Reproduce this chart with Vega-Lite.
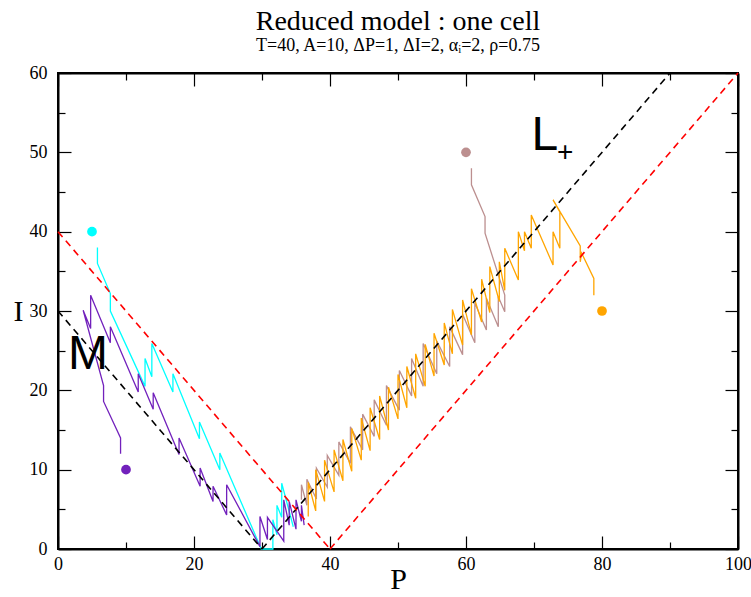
{
  "$schema": "https://vega.github.io/schema/vega-lite/v6.json",
  "width": 680,
  "height": 476,
  "autosize": "none",
  "padding": {"left": 58, "top": 73, "right": 13, "bottom": 48},
  "background": "white",
  "config": {
    "view": {"stroke": "black", "strokeWidth": 2},
    "axis": {"grid": false, "domainColor": "black", "domainWidth": 2, "tickColor": "black", "tickWidth": 1.2, "labelColor": "black", "labelFont": "Liberation Serif", "labelFontSize": 18, "titleFont": "Liberation Serif", "titleColor": "black", "titleFontWeight": "normal", "labelFlush": false, "labelOverlap": false}
  },
  "title": {"text": "Reduced model : one cell", "subtitle": "T=40, A=10, ΔP=1, ΔI=2, αᵢ=2, ρ=0.75", "font": "Liberation Serif", "subtitleFont": "Liberation Serif", "fontSize": 28, "subtitleFontSize": 18, "fontWeight": "normal", "color": "black", "subtitleColor": "black", "anchor": "middle", "offset": 9, "subtitlePadding": 1},
  "datasets": {
    "refs": [
      {"g": "M", "kind": "M", "P": 0, "I": 30}, {"g": "M", "kind": "M", "P": 30, "I": 0},
      {"g": "L", "kind": "L+", "P": 30, "I": 0}, {"g": "L", "kind": "L+", "P": 90, "I": 60},
      {"g": "R1", "kind": "bound", "P": 0, "I": 40}, {"g": "R1", "kind": "bound", "P": 40, "I": 0},
      {"g": "R2", "kind": "bound", "P": 40, "I": 0}, {"g": "R2", "kind": "bound", "P": 100, "I": 60}
    ],
    "starts": [
      {"s": "cyan", "P": 5, "I": 40}, {"s": "purple", "P": 10, "I": 10},
      {"s": "brown", "P": 60, "I": 50}, {"s": "orange", "P": 80, "I": 30}
    ],
    "labels": [
      {"t": "M", "P": 4.4, "I": 24.4},
      {"t": "L", "P": 71.6, "I": 52.1}
    ],
    "sub": [{"t": "+", "P": 74.6, "I": 49.9}],
    "cyan": [
      {"k": 1, "P": 5.8, "I": 38.0}, {"k": 2, "P": 5.8, "I": 36.0}, {"k": 3, "P": 7.7, "I": 32.2}, {"k": 4, "P": 7.7, "I": 30.0},
      {"k": 5, "P": 12.8, "I": 20.5}, {"k": 6, "P": 12.8, "I": 24.0}, {"k": 7, "P": 13.8, "I": 21.7}, {"k": 8, "P": 13.8, "I": 25.9},
      {"k": 9, "P": 16.9, "I": 19.8}, {"k": 10, "P": 16.9, "I": 22.1}, {"k": 11, "P": 20.8, "I": 13.9}, {"k": 12, "P": 20.8, "I": 16.0},
      {"k": 13, "P": 23.8, "I": 10.0}, {"k": 14, "P": 23.8, "I": 12.1}, {"k": 15, "P": 29.9, "I": 0.0}, {"k": 16, "P": 31.6, "I": 0.0},
      {"k": 17, "P": 31.6, "I": 3.7}, {"k": 18, "P": 32.2, "I": 1.8}, {"k": 19, "P": 32.2, "I": 5.5}, {"k": 20, "P": 32.9, "I": 4.0},
      {"k": 21, "P": 32.9, "I": 8.3}, {"k": 22, "P": 34.6, "I": 2.8}
    ],
    "purple": [
      {"k": 1, "P": 9.2, "I": 12.0}, {"k": 2, "P": 9.2, "I": 14.0}, {"k": 3, "P": 6.7, "I": 18.6}, {"k": 4, "P": 6.7, "I": 20.6},
      {"k": 5, "P": 3.7, "I": 30.1}, {"k": 6, "P": 4.8, "I": 27.8}, {"k": 7, "P": 4.8, "I": 32.0}, {"k": 8, "P": 7.7, "I": 26.0},
      {"k": 9, "P": 7.7, "I": 28.0}, {"k": 10, "P": 11.8, "I": 19.8}, {"k": 11, "P": 11.8, "I": 22.1}, {"k": 12, "P": 14.0, "I": 17.6},
      {"k": 13, "P": 14.0, "I": 19.7}, {"k": 14, "P": 17.8, "I": 11.9}, {"k": 15, "P": 17.8, "I": 14.0}, {"k": 16, "P": 20.9, "I": 7.9},
      {"k": 17, "P": 20.9, "I": 10.2}, {"k": 18, "P": 22.8, "I": 6.0}, {"k": 19, "P": 22.8, "I": 7.9}, {"k": 20, "P": 24.8, "I": 4.3},
      {"k": 21, "P": 24.8, "I": 8.1}, {"k": 22, "P": 29.7, "I": 0.3}, {"k": 23, "P": 29.7, "I": 4.1}, {"k": 24, "P": 30.8, "I": 1.2},
      {"k": 25, "P": 30.8, "I": 4.0}, {"k": 26, "P": 33.2, "I": 1.0}, {"k": 27, "P": 33.2, "I": 6.2}, {"k": 28, "P": 34.0, "I": 3.0},
      {"k": 29, "P": 34.0, "I": 6.0}, {"k": 30, "P": 35.0, "I": 2.5}, {"k": 31, "P": 35.0, "I": 6.2}, {"k": 32, "P": 35.8, "I": 3.5},
      {"k": 33, "P": 35.8, "I": 5.5}, {"k": 34, "P": 36.2, "I": 3.0}
    ],
    "brown": [
      {"k": 1, "P": 60.8, "I": 48.0}, {"k": 2, "P": 60.8, "I": 45.9}, {"k": 3, "P": 62.8, "I": 41.9}, {"k": 4, "P": 62.8, "I": 39.8},
      {"k": 5, "P": 65.7, "I": 32.0}, {"k": 6, "P": 65.7, "I": 29.9}, {"k": 7, "P": 64.75, "I": 31.8}, {"k": 8, "P": 64.75, "I": 28.0},
      {"k": 9, "P": 63.0, "I": 31.6}, {"k": 10, "P": 63.0, "I": 27.6}, {"k": 11, "P": 61.3, "I": 31.0}, {"k": 12, "P": 61.3, "I": 26.0},
      {"k": 13, "P": 59.5, "I": 29.6}, {"k": 14, "P": 59.5, "I": 24.5}, {"k": 15, "P": 57.6, "I": 28.0}, {"k": 16, "P": 57.6, "I": 23.0},
      {"k": 17, "P": 55.7, "I": 26.2}, {"k": 18, "P": 55.7, "I": 22.1}, {"k": 19, "P": 53.7, "I": 25.9}, {"k": 20, "P": 53.7, "I": 20.5},
      {"k": 21, "P": 52.0, "I": 24.0}, {"k": 22, "P": 52.0, "I": 19.3}, {"k": 23, "P": 50.2, "I": 22.5}, {"k": 24, "P": 50.2, "I": 17.5},
      {"k": 25, "P": 48.3, "I": 20.6}, {"k": 26, "P": 48.3, "I": 15.6}, {"k": 27, "P": 46.5, "I": 18.8}, {"k": 28, "P": 46.5, "I": 14.2},
      {"k": 29, "P": 44.8, "I": 17.0}, {"k": 30, "P": 44.8, "I": 12.5}, {"k": 31, "P": 43.0, "I": 15.4}, {"k": 32, "P": 43.0, "I": 10.8},
      {"k": 33, "P": 41.3, "I": 13.5}, {"k": 34, "P": 41.3, "I": 9.3}, {"k": 35, "P": 39.6, "I": 11.8}, {"k": 36, "P": 39.6, "I": 7.8},
      {"k": 37, "P": 38.0, "I": 10.2}, {"k": 38, "P": 38.0, "I": 6.3}, {"k": 39, "P": 36.6, "I": 8.8}, {"k": 40, "P": 36.6, "I": 5.5},
      {"k": 41, "P": 35.8, "I": 8.1}, {"k": 42, "P": 35.8, "I": 6.2}
    ],
    "orange": [
      {"k": 1, "P": 78.8, "I": 32.0}, {"k": 2, "P": 78.8, "I": 34.1}, {"k": 3, "P": 77.0, "I": 37.3}, {"k": 4, "P": 76.8, "I": 36.2},
      {"k": 5, "P": 76.8, "I": 38.2}, {"k": 6, "P": 72.8, "I": 44.0}, {"k": 7, "P": 73.8, "I": 42.5}, {"k": 8, "P": 73.8, "I": 37.9},
      {"k": 9, "P": 72.8, "I": 40.0}, {"k": 10, "P": 72.8, "I": 35.8}, {"k": 11, "P": 69.6, "I": 42.1}, {"k": 12, "P": 69.6, "I": 37.9},
      {"k": 13, "P": 68.6, "I": 40.0}, {"k": 14, "P": 68.6, "I": 37.6}, {"k": 15, "P": 67.7, "I": 40.0}, {"k": 16, "P": 67.7, "I": 33.9},
      {"k": 17, "P": 65.7, "I": 37.9}, {"k": 18, "P": 65.7, "I": 32.6}, {"k": 19, "P": 64.9, "I": 36.2}, {"k": 20, "P": 64.9, "I": 31.2},
      {"k": 21, "P": 63.5, "I": 35.6}, {"k": 22, "P": 63.5, "I": 29.8}, {"k": 23, "P": 62.3, "I": 34.0}, {"k": 24, "P": 62.3, "I": 28.6},
      {"k": 25, "P": 60.8, "I": 32.8}, {"k": 26, "P": 60.8, "I": 27.0}, {"k": 27, "P": 59.5, "I": 31.4}, {"k": 28, "P": 59.5, "I": 25.7},
      {"k": 29, "P": 58.0, "I": 30.2}, {"k": 30, "P": 58.0, "I": 24.6}, {"k": 31, "P": 56.8, "I": 28.5}, {"k": 32, "P": 56.8, "I": 23.2},
      {"k": 33, "P": 55.3, "I": 27.2}, {"k": 34, "P": 55.3, "I": 21.8}, {"k": 35, "P": 54.0, "I": 25.8}, {"k": 36, "P": 54.0, "I": 20.5},
      {"k": 37, "P": 52.6, "I": 24.6}, {"k": 38, "P": 52.6, "I": 19.0}, {"k": 39, "P": 51.3, "I": 23.0}, {"k": 40, "P": 51.3, "I": 17.8},
      {"k": 41, "P": 50.0, "I": 22.0}, {"k": 42, "P": 50.0, "I": 16.4}, {"k": 43, "P": 48.6, "I": 20.4}, {"k": 44, "P": 48.6, "I": 15.0},
      {"k": 45, "P": 47.3, "I": 19.3}, {"k": 46, "P": 47.3, "I": 13.8}, {"k": 47, "P": 45.9, "I": 17.8}, {"k": 48, "P": 45.9, "I": 12.4},
      {"k": 49, "P": 44.6, "I": 16.5}, {"k": 50, "P": 44.6, "I": 11.2}, {"k": 51, "P": 43.2, "I": 15.2}, {"k": 52, "P": 43.2, "I": 9.8},
      {"k": 53, "P": 41.9, "I": 13.8}, {"k": 54, "P": 41.9, "I": 8.6}, {"k": 55, "P": 40.6, "I": 12.5}, {"k": 56, "P": 40.6, "I": 7.2},
      {"k": 57, "P": 39.2, "I": 11.2}, {"k": 58, "P": 39.2, "I": 6.0}, {"k": 59, "P": 37.9, "I": 10.0}, {"k": 60, "P": 37.9, "I": 4.8},
      {"k": 61, "P": 36.8, "I": 8.4}, {"k": 62, "P": 36.8, "I": 4.1}
    ]
  },
  "resolve": {"axis": {"x": "independent", "y": "independent"}},
  "layer": [
    {
      "data": {"name": "cyan"},
      "mark": {"type": "line", "color": "#00ffff", "strokeWidth": 1.3},
      "encoding": {
        "x": {"field": "P", "type": "quantitative", "scale": {"domain": [0, 100], "nice": false, "zero": false},
              "axis": {"orient": "bottom", "values": [0, 20, 40, 60, 80, 100], "tickSize": -13, "labelPadding": 19, "title": "P", "titleFontSize": 30, "titleBaseline": "middle", "titleY": 30}},
        "y": {"field": "I", "type": "quantitative", "scale": {"domain": [0, 60], "nice": false, "zero": false},
              "axis": {"orient": "left", "values": [0, 10, 20, 30, 40, 50, 60], "tickSize": -13, "labelPadding": 24, "title": "I", "titleFontSize": 30, "titleAngle": 0, "titleX": -40, "titleY": 238, "titleAlign": "center", "titleBaseline": "middle"}},
        "order": {"field": "k", "type": "quantitative"}
      }
    },
    {
      "data": {"name": "brown"},
      "mark": {"type": "line", "color": "#bc8f8f", "strokeWidth": 1.3},
      "encoding": {
        "x": {"field": "P", "type": "quantitative", "axis": {"orient": "bottom", "values": [10, 30, 50, 70, 90], "tickSize": -7, "labels": false, "domain": false, "title": null}},
        "y": {"field": "I", "type": "quantitative", "axis": {"orient": "left", "values": [5, 15, 25, 35, 45, 55], "tickSize": -7, "labels": false, "domain": false, "title": null}},
        "order": {"field": "k", "type": "quantitative"}
      }
    },
    {
      "data": {"name": "purple"},
      "mark": {"type": "line", "color": "#7221bc", "strokeWidth": 1.3},
      "encoding": {
        "x": {"field": "P", "type": "quantitative", "axis": {"orient": "top", "values": [0, 20, 40, 60, 80, 100], "tickSize": -13, "labels": false, "title": null}},
        "y": {"field": "I", "type": "quantitative", "axis": {"orient": "right", "values": [0, 10, 20, 30, 40, 50, 60], "tickSize": -13, "labels": false, "title": null}},
        "order": {"field": "k", "type": "quantitative"}
      }
    },
    {
      "data": {"name": "orange"},
      "mark": {"type": "line", "color": "#ffa500", "strokeWidth": 1.3},
      "encoding": {
        "x": {"field": "P", "type": "quantitative", "axis": {"orient": "top", "values": [10, 30, 50, 70, 90], "tickSize": -7, "labels": false, "domain": false, "title": null}},
        "y": {"field": "I", "type": "quantitative", "axis": {"orient": "right", "values": [5, 15, 25, 35, 45, 55], "tickSize": -7, "labels": false, "domain": false, "title": null}},
        "order": {"field": "k", "type": "quantitative"}
      }
    },
    {
      "data": {"name": "refs"},
      "mark": {"type": "line", "strokeDash": [7, 5], "strokeWidth": 1.6},
      "encoding": {
        "x": {"field": "P", "type": "quantitative", "axis": null},
        "y": {"field": "I", "type": "quantitative", "axis": null},
        "detail": {"field": "g"},
        "color": {"field": "kind", "type": "nominal", "scale": {"domain": ["M", "L+", "bound"], "range": ["black", "black", "#ff0000"]}, "legend": null}
      }
    },
    {
      "data": {"name": "starts"},
      "mark": {"type": "circle", "size": 95, "opacity": 1},
      "encoding": {
        "x": {"field": "P", "type": "quantitative", "axis": null},
        "y": {"field": "I", "type": "quantitative", "axis": null},
        "fill": {"field": "s", "type": "nominal", "scale": {"domain": ["cyan", "purple", "brown", "orange"], "range": ["#00ffff", "#7221bc", "#bc8f8f", "#ffa500"]}, "legend": null}
      }
    },
    {
      "data": {"name": "labels"},
      "mark": {"type": "text", "font": "Liberation Sans", "fontSize": 48, "color": "black", "align": "center", "baseline": "middle"},
      "encoding": {
        "x": {"field": "P", "type": "quantitative", "axis": null},
        "y": {"field": "I", "type": "quantitative", "axis": null},
        "text": {"field": "t"}
      }
    },
    {
      "data": {"name": "sub"},
      "mark": {"type": "text", "font": "Liberation Sans", "fontSize": 28, "color": "black", "align": "center", "baseline": "middle"},
      "encoding": {
        "x": {"field": "P", "type": "quantitative", "axis": null},
        "y": {"field": "I", "type": "quantitative", "axis": null},
        "text": {"field": "t"}
      }
    }
  ]
}
